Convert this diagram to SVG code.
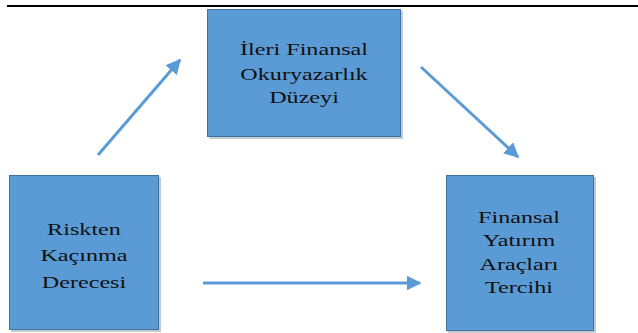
<svg xmlns="http://www.w3.org/2000/svg" width="638" height="333" viewBox="0 0 638 333">
<style>
.box{fill:#5B9BD5;stroke:#41719C;stroke-width:1}
.shadow{fill:#9aa7b4;opacity:0.6}
.lbl{font-family:"Liberation Serif","Times New Roman",Tinos,"DejaVu Serif",serif;font-size:17.5px;fill:#111;text-anchor:middle}
.conn{stroke:#5B9BD5;stroke-width:3;fill:none;marker-end:url(#ah)}
</style>
<defs>
<marker id="ah" viewBox="0 0 10 10" refX="9" refY="5" markerWidth="5" markerHeight="5" orient="auto" markerUnits="strokeWidth">
<path d="M0,0 L10,5 L0,10 z" fill="#5B9BD5"/>
</marker>
</defs>
<rect x="0" y="0" width="638" height="333" fill="#ffffff"/>
<line x1="7" y1="6" x2="638" y2="6" stroke="#000" stroke-width="2.2"/>
<g id="node-ileri">
<rect class="shadow" x="209" y="11" width="194" height="128"/>
<rect class="box" x="207.5" y="9.5" width="193" height="127"/>
<g transform="translate(304,0) scale(1.38,1)">
<text class="lbl" x="0" y="55">İleri Finansal</text>
<text class="lbl" x="0" y="80">Okuryazarlık</text>
<text class="lbl" x="0" y="103">Düzeyi</text>
</g>
</g>
<g id="node-riskten">
<rect class="shadow" x="11" y="177" width="150" height="155"/>
<rect class="box" x="9.5" y="175.5" width="149" height="154"/>
<g transform="translate(84,0) scale(1.38,1)">
<text class="lbl" x="0" y="235">Riskten</text>
<text class="lbl" x="0" y="261">Kaçınma</text>
<text class="lbl" x="0" y="288">Derecesi</text>
</g>
</g>
<g id="node-tercih">
<rect class="shadow" x="448" y="177" width="148" height="156"/>
<rect class="box" x="446.5" y="175.5" width="147" height="155"/>
<g transform="translate(519,0) scale(1.38,1)">
<text class="lbl" x="0" y="223">Finansal</text>
<text class="lbl" x="0" y="246">Yatırım</text>
<text class="lbl" x="0" y="270">Araçları</text>
<text class="lbl" x="0" y="293">Tercihi</text>
</g>
</g>
<g id="connectors">
<line class="conn" x1="98" y1="155" x2="180" y2="60"/>
<line class="conn" x1="421" y1="67" x2="518" y2="157"/>
<line class="conn" x1="203" y1="283" x2="420" y2="283"/>
</g>
</svg>
